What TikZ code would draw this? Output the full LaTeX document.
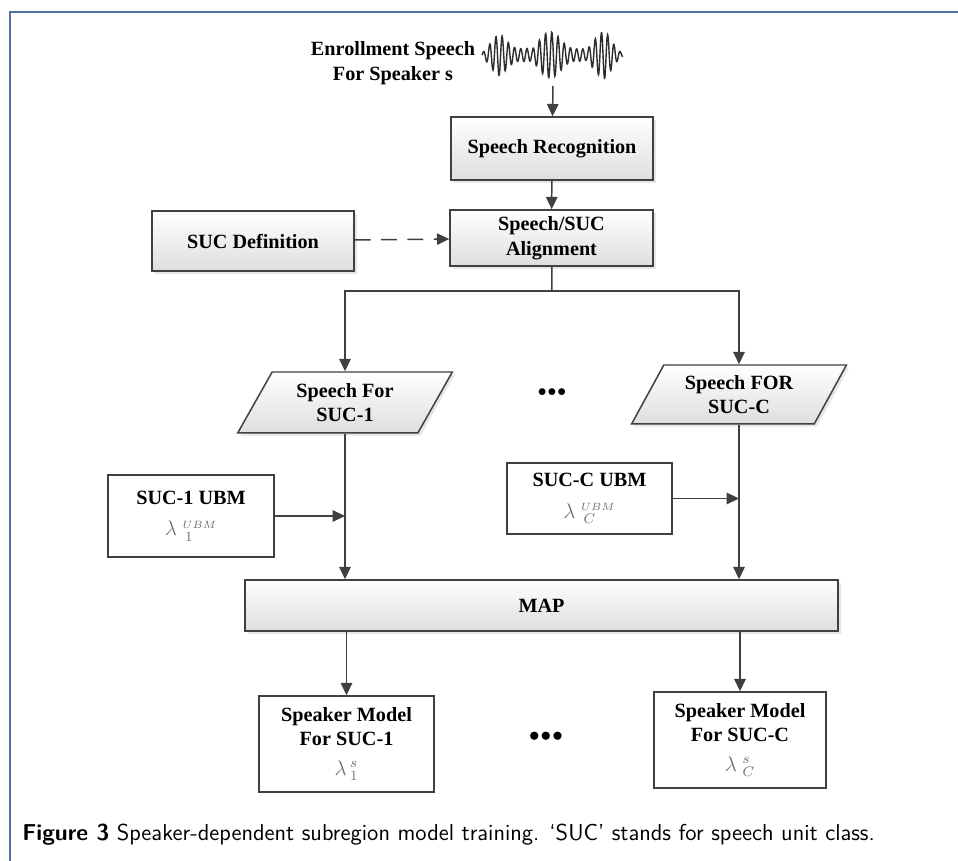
\documentclass[tikz,border=0pt]{standalone}
\usepackage{fontspec}
\setmainfont{Liberation Serif}
\usetikzlibrary{shapes.geometric, arrows.meta, positioning, shadows, calc}

\definecolor{linegray}{RGB}{64,64,64}
\definecolor{framecol}{RGB}{84,112,158}
\definecolor{lamgray}{RGB}{110,110,110}

\tikzset{
  blockfont/.style={font=\fontsize{11.5}{14}\selectfont\bfseries},
  shadedbox/.style={rectangle, draw=linegray, line width=0.85pt, top color=white, bottom color=black!13,
    drop shadow={opacity=0.2, shadow xshift=1.5pt, shadow yshift=-1.5pt}, blockfont, align=center},
  plainbox/.style={rectangle, draw=linegray, line width=0.85pt, fill=white, blockfont, align=center},
  databox/.style={trapezium, trapezium left angle=63, trapezium right angle=117, trapezium stretches=true,
    draw=linegray, line width=0.85pt, top color=white, bottom color=black!13,
    drop shadow={opacity=0.2, shadow xshift=1.5pt, shadow yshift=-1.5pt}, blockfont, align=center},
  arr/.style={-{Triangle[length=7pt,width=6.5pt]}, draw=linegray, line width=0.85pt},
}

\begin{document}
\begin{tikzpicture}[x=0.02cm,y=-0.02cm]
    \useasboundingbox (0,0) rectangle (958,861);

    % Rahmen
    \draw[framecol, line width=1.3pt] (10,861) -- (10,12) -- (958,12);

    % Sprachsignal
    \node[blockfont, align=center] (enroll) at (393,63) {Enrollment Speech\\For Speaker s};
    \draw[linegray!70!black, line width=0.8pt]
      plot[domain=482:623, samples=450, smooth]
      (\x, {55 - 27*(0.3+0.7*abs(sin(3.3*(\x-482)+15)))*(0.65+0.35*sin(6.5*(\x-482)+40))*min(1,(\x-478)/22)*min(1,(627-\x)/22)*sin(58*(\x-482))});
    \coordinate (wavebot) at (553,86);

    % Bloecke oben
    \node[shadedbox, minimum width=4.04cm, minimum height=1.26cm] (recog) at (552,148.5) {Speech Recognition};
    \node[shadedbox, minimum width=4.06cm, minimum height=1.12cm] (align) at (551.5,238) {Speech/SUC\\Alignment};
    \node[shadedbox, minimum width=4.04cm, minimum height=1.2cm] (sucdef) at (253,241) {SUC Definition};

    % Sprachdaten je SUC
    \node[databox, minimum width=4.32cm, minimum height=1.22cm] (speechone) at (345,402.5) {Speech For\\SUC-1};
    \node[databox, minimum width=4.32cm, minimum height=1.18cm] (speechc) at (739,394.5) {Speech FOR\\SUC-C};
    \node[font=\normalsize] (dotsup) at (552,393) {$\bullet\!\bullet\!\bullet$};

    % UBMs
    \node[plainbox, minimum width=3.32cm, minimum height=1.64cm] (ubmone) at (191,516)
      {SUC-1 UBM\\[4pt]{\normalfont\color{lamgray}$\lambda\;{}^{\scriptscriptstyle UBM}_{\,1}$}};
    \node[plainbox, minimum width=3.3cm, minimum height=1.42cm] (ubmc) at (589.5,498.5)
      {SUC-C UBM\\[4pt]{\normalfont\color{lamgray}$\lambda\;{}^{\scriptscriptstyle UBM}_{\,C}$}};

    % MAP
    \node[shadedbox, minimum width=11.86cm, minimum height=1.02cm] (map) at (541.5,605.5) {MAP};

    % Sprechermodelle
    \node[plainbox, minimum width=3.5cm, minimum height=1.92cm] (modelone) at (346.5,744)
      {Speaker Model\\For SUC-1\\[3pt]{\normalfont\color{lamgray}$\lambda\,{}^{s}_{1}$}};
    \node[plainbox, minimum width=3.44cm, minimum height=1.92cm] (modelc) at (740,740)
      {Speaker Model\\For SUC-C\\[3pt]{\normalfont\color{lamgray}$\lambda\;{}^{s}_{C}$}};
    \node[font=\large] (dotsdown) at (546,737) {$\bullet\!\bullet\!\bullet$};

    % Verbindungen
    \coordinate (split) at (552,291);
    \draw[arr] (wavebot) -- (recog);
    \draw[arr] (recog) -- (align);
    \draw[arr, dashed, dash pattern=on 9pt off 6pt] (sucdef) -- (align);
    \draw[linegray, line width=0.85pt] (align) -- (split);
    \draw[arr] (split) -| (speechone);
    \draw[arr] (split) -| (speechc);
    \draw[arr] (speechone.south) -- (speechone.south |- map.north);
    \draw[arr] (speechc.south) -- (speechc.south |- map.north);
    \draw[arr] (ubmone.east) -- (ubmone.east -| speechone.south);
    \draw[arr] (ubmc.east) -- (ubmc.east -| speechc.south);
    \draw[arr] (map.south -| modelone) -- (modelone);
    \draw[arr] (map.south -| modelc) -- (modelc);

    % Bildunterschrift
    \node[anchor=west, font=\sffamily\fontsize{13.1}{15}\selectfont, inner sep=0pt] (caption) at (22,835)
      {\textbf{Figure 3} Speaker-dependent subregion model training. `SUC' stands for speech unit class.};
\end{tikzpicture}
\end{document}
